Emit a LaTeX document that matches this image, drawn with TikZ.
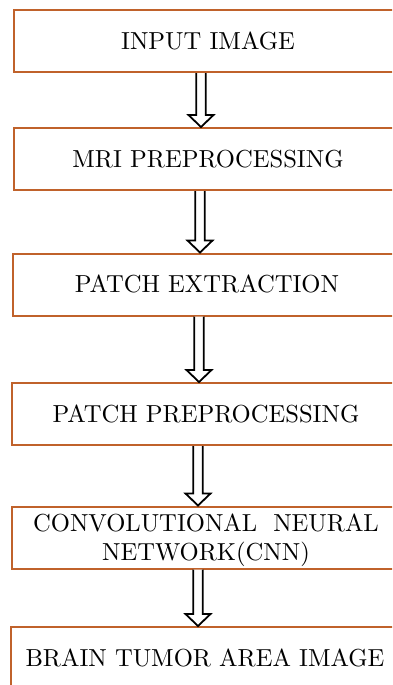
\documentclass[tikz,border=0pt]{standalone}
\usetikzlibrary{calc}
\definecolor{boxbrown}{RGB}{192,98,43}
\newcommand{\boxtext}[1]{\scalebox{2.46}{\fontsize{10}{11.8}\selectfont\begin{tabular}{@{}c@{}}#1\end{tabular}}}
\tikzset{
  box/.style={draw=boxbrown, line width=2pt, minimum width=388pt, minimum height=62pt,
    inner sep=0pt, text height=20pt, text depth=2.48pt, align=center, fill=white},
  harrow/.style={draw=black, line width=1.8pt, fill=white, line join=miter},
}
\newcommand{\hollowarrow}[3]{%
  \draw[harrow] let \p1=($(#2.south)+(#1,0)$), \p2=(#3.north) in
    (\x1-4.8pt,\y1) -- (\x1-4.8pt,\y2+12pt) -- (\x1-12.5pt,\y2+12pt) -- (\x1,\y2)
    -- (\x1+12.5pt,\y2+12pt) -- (\x1+4.8pt,\y2+12pt) -- (\x1+4.8pt,\y1);
}
\begin{document}
\begin{tikzpicture}[x=1pt,y=-1pt]
\useasboundingbox (0,0) rectangle (392,685);
\clip (0,0) rectangle (392,685);
\fill[white] (0,0) rectangle (392,685);
\node[box] (b1) at (208,41) {\boxtext{INPUT IMAGE}};
\node[box] (b2) at (208,159) {\boxtext{MRI PREPROCESSING}};
\node[box] (b3) at (207,284.5) {\boxtext{PATCH EXTRACTION}};
\node[box] (b4) at (206,414) {\boxtext{PATCH PREPROCESSING}};
\node[box] (b5) at (206,537.5) {\boxtext{CONVOLUTIONAL\hspace{6.5pt}NEURAL\\NETWORK(CNN)}};
\node[box] (b6) at (205,658) {\boxtext{BRAIN TUMOR AREA IMAGE}};
\hollowarrow{-7}{b1}{b2}
\hollowarrow{-8}{b2}{b3}
\hollowarrow{-8}{b3}{b4}
\hollowarrow{-8}{b4}{b5}
\hollowarrow{-8}{b5}{b6}
\end{tikzpicture}
\end{document}
